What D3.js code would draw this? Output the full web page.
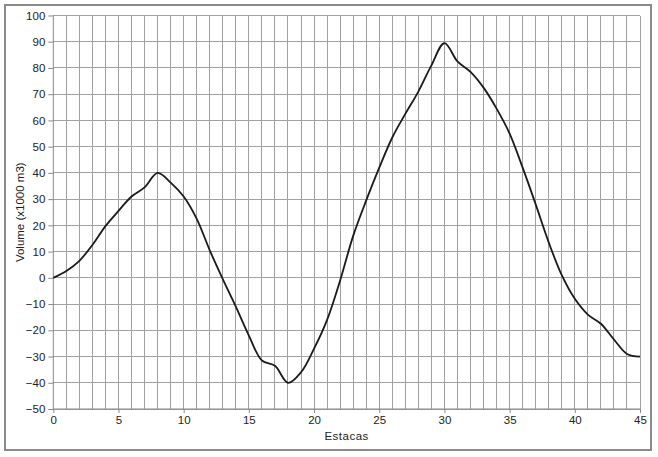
<!DOCTYPE html>
<html>
<head>
<meta charset="utf-8">
<script src="https://cdn.jsdelivr.net/npm/d3@7"></script>
<style>
  html, body { margin: 0; padding: 0; background: #fff; }
  svg { display: block; }
  text { font-family: Arial, "Liberation Sans", sans-serif; }
</style>
</head>
<body>
<svg id="chart" width="658" height="457"></svg>
<script>
// Data
const estacas = [0,1,2,3,4,5,6,7,8,9,10,11,12,13,14,15,16,17,18,19,20,21,22,23,24,25,26,27,28,29,30,31,32,33,34,35,36,37,38,39,40,41,42,43,44,45];
const volume  = [0,2.6,6.5,12.5,19.7,25.5,31,34.5,40,36.3,31,22.5,10.5,-0.5,-11,-22,-31.5,-33.5,-40,-36,-27,-16,-1,16,29.5,42,53.5,62.5,71,81,89.5,82.5,78.5,72.5,64.5,55,42,28,13.5,1,-8,-14,-17.5,-23.5,-29,-30];
const xTicks = [0,5,10,15,20,25,30,35,40,45];
const yTicks = [-50,-40,-30,-20,-10,0,10,20,30,40,50,60,70,80,90,100];
const xTitle = "Estacas";
const yTitle = "Volume (x1000 m3)";

const svg = d3.select("#chart");
const mL = 53.3, mR = 640, mT = 15.5, mB = 409;

// frame
svg.append("rect").attr("x", 5).attr("y", 5).attr("width", 646).attr("height", 445)
  .attr("fill", "#fff").attr("stroke", "#8a8a8a").attr("stroke-width", 2);

const x = d3.scaleLinear().domain([0, 45]).range([mL, mR]);
const y = d3.scaleLinear().domain([-50, 100]).range([mB, mT]);

// vertical gridlines every 1
const g = svg.append("g");
g.selectAll("line.vg").data(d3.range(1, 46)).join("line").attr("class", "vg")
  .attr("x1", d => x(d)).attr("x2", d => x(d))
  .attr("y1", mT).attr("y2", mB)
  .attr("stroke", "#a0a0a0").attr("stroke-width", 1).attr("shape-rendering", "crispEdges");
// horizontal gridlines
g.selectAll("line.hg").data(yTicks).join("line").attr("class", "hg")
  .attr("x1", mL).attr("x2", mR)
  .attr("y1", d => y(d)).attr("y2", d => y(d))
  .attr("stroke", "#a0a0a0").attr("stroke-width", 1).attr("shape-rendering", "crispEdges");

// y axis
const yAxis = d3.axisLeft(y).tickValues(yTicks).tickSize(5).tickPadding(3);
const ya = svg.append("g").attr("transform", `translate(${mL},0)`).call(yAxis);
ya.select(".domain").attr("stroke", "#8a8a8a").attr("d", `M0,${mT}V${mB}`);
ya.selectAll(".tick line").attr("stroke", "#8a8a8a");
ya.selectAll(".tick text").attr("font-size", 11.5).attr("fill", "#222")
  .attr("font-family", "Arial, 'Liberation Sans', sans-serif");

// x axis
const xAxis = d3.axisBottom(x).tickValues(xTicks).tickSize(4).tickPadding(3);
const xa = svg.append("g").attr("transform", `translate(0,${mB})`).call(xAxis);
xa.select(".domain").attr("stroke", "#8a8a8a").attr("d", `M${mL},0H${mR}`);
xa.selectAll(".tick line").attr("stroke", "#8a8a8a");
xa.selectAll(".tick text").attr("font-size", 11.5).attr("fill", "#222")
  .attr("font-family", "Arial, 'Liberation Sans', sans-serif");

// titles
svg.append("text").attr("x", (mL + mR) / 2).attr("y", 440)
  .attr("text-anchor", "middle").attr("font-size", 11.5).attr("fill", "#222")
  .attr("letter-spacing", 0.5).text(xTitle);
svg.append("text")
  .attr("transform", `translate(24,${(mT + mB) / 2}) rotate(-90)`)
  .attr("text-anchor", "middle").attr("font-size", 11.5).attr("fill", "#222")
  .text(yTitle);

// curve
const pts = estacas.map((e, i) => [e, volume[i]]);
const line = d3.line().x(d => x(d[0])).y(d => y(d[1])).curve(d3.curveCatmullRom.alpha(0.5));
svg.append("path").datum(pts).attr("d", line)
  .attr("fill", "none").attr("stroke", "#1a1a1a").attr("stroke-width", 1.8);
</script>
</body>
</html>
